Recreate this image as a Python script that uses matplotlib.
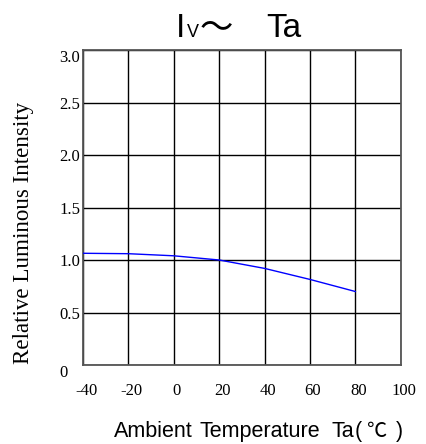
import matplotlib
matplotlib.use("Agg")
import matplotlib.pyplot as plt
import matplotlib.transforms as mtransforms

# données
temp = [-40, -20, 0, 20, 40, 60, 80]
rel_intensity = [1.064, 1.06, 1.04, 1.0, 0.92, 0.815, 0.70]

xticks = [-40, -20, 0, 20, 40, 60, 80, 100]
yticks = [0, 0.5, 1.0, 1.5, 2.0, 2.5, 3.0]
ytick_labels = ['0', '0.5', '1.0', '1.5', '2.0', '2.5', '3.0']

plt.rcParams['axes.unicode_minus'] = False

W, H = 427, 444
fig = plt.figure(figsize=(W/100, H/100), dpi=100)
ax = fig.add_axes([83.0/W, 1-365/H, (400.7-83.0)/W, (365-50)/H])

ax.plot(temp, rel_intensity, color='#0000ff', linewidth=1.0, zorder=3)

ax.set_xlim(-40, 100)
ax.set_ylim(0, 3.0)
ax.set_xticks(xticks)
ax.set_yticks(yticks)
ax.set_yticklabels(ytick_labels)
ax.grid(True, color='black', linewidth=1.0)
for s in ax.spines.values():
    s.set_linewidth(1.3)
    s.set_color('#555555')

serif = 'Liberation Serif'
ax.tick_params(axis='both', length=0, labelsize=12)
ax.tick_params(axis='y', pad=17)
ax.tick_params(axis='x', pad=13)
for lab in ax.get_yticklabels():
    lab.set_family(serif)
    lab.set_horizontalalignment('left')
    if lab.get_text() in ('0', '3.0'):
        lab.set_verticalalignment('top')
shift = mtransforms.ScaledTranslation(3/100, 0, fig.dpi_scale_trans)
for lab in ax.get_xticklabels():
    lab.set_family(serif)
    lab.set_transform(lab.get_transform() + shift)

fig.text(24/W, 1-233/H, 'Relative Luminous Intensity', rotation=90,
         ha='center', va='center', fontsize=16.6, family=serif)

# étiquette x : mots espacés comme l'original, ℃ pleine chasse
xlab_y = 1 - 436.5/H
xlab_words = [('Ambient', 114), ('Temperature', 200), ('Ta', 332), ('(', 355), (')', 396)]
for word, px in xlab_words:
    fig.text(px/W, xlab_y, word, ha='left', va='baseline',
             fontsize=15.5, family='Liberation Sans')
fig.text(366/W, xlab_y, '\u2103', ha='left', va='baseline',
         fontsize=14.5, family=['Noto Sans CJK SC', 'DejaVu Sans'])

# titre : I grand, V petit, tilde pleine chasse
sans = ['Liberation Sans', 'Noto Sans CJK SC', 'DejaVu Sans']
fig.text(176/W, 1-37/H, 'I', ha='left', va='baseline', fontsize=24, family=sans)
fig.text(187/W, 1-37/H, 'V', ha='left', va='baseline', fontsize=13, family=sans)
fig.text(200/W, 1-37/H, '\uff5e', ha='left', va='baseline', fontsize=24, family=sans)
fig.text(266/W, 1-37/H, 'Ta', ha='left', va='baseline', fontsize=24, family=sans)

fig.savefig('out.png', dpi=100)
